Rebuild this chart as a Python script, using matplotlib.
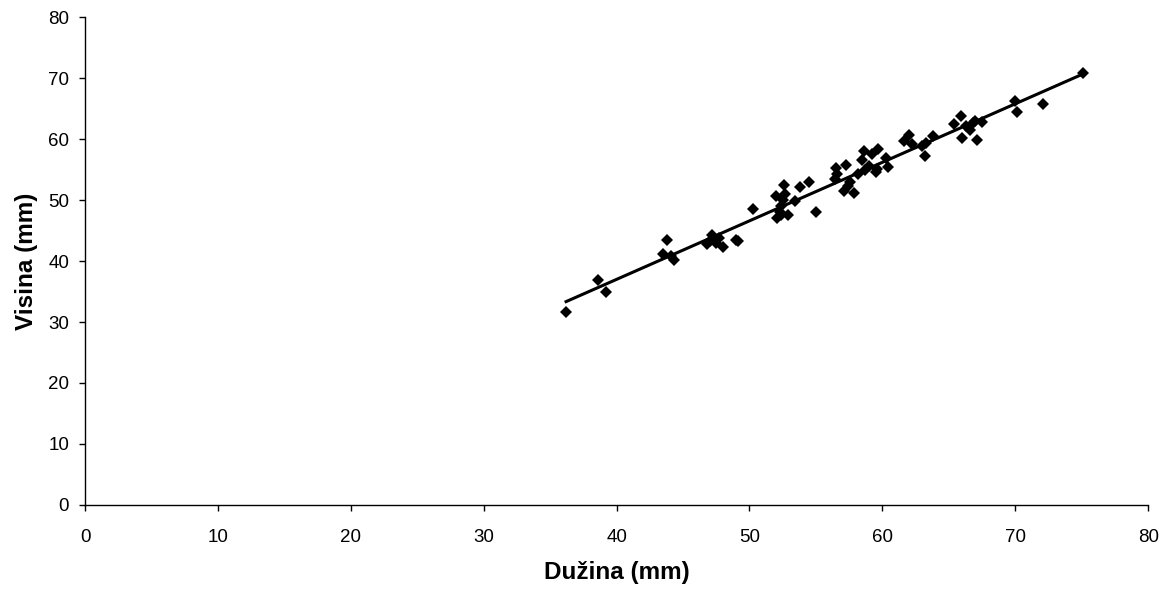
import numpy as np
import matplotlib
matplotlib.use("Agg")
import matplotlib.pyplot as plt

plt.rcParams['font.family'] = ['Liberation Sans', 'DejaVu Sans']

duzina = [36.2, 38.6, 39.2, 43.5, 43.8, 44.1, 44.3, 46.8, 47.0, 47.2, 47.5, 47.7, 48.0,
          49.0, 49.1, 50.3, 52.0, 52.1, 52.3, 52.4, 52.5, 52.6, 52.7, 52.4, 52.9, 53.4,
          53.8, 54.5, 55.0, 56.4, 56.5, 56.6, 57.1, 57.3, 57.4, 57.6, 57.9, 58.2, 58.5,
          58.6, 58.7, 59.0, 59.2, 59.6, 59.7, 59.5, 60.3, 60.4, 61.6, 62.0, 62.2, 63.0,
          63.2, 63.3, 63.8, 65.4, 65.9, 66.0, 66.3, 66.6, 66.8, 67.0, 67.1, 67.5, 70.0,
          70.1, 72.1, 75.1]
visina = [31.7, 36.9, 34.9, 41.2, 43.5, 40.8, 40.1, 42.8, 43.3, 44.2, 42.9, 43.8, 42.3,
          43.5, 43.2, 48.5, 50.6, 47.0, 48.0, 49.0, 50.0, 52.4, 51.0, 47.6, 47.6, 49.8,
          52.2, 52.9, 48.0, 53.4, 55.3, 54.2, 51.5, 55.8, 52.3, 53.0, 51.1, 54.3, 56.5,
          58.0, 54.9, 55.6, 57.5, 55.1, 58.4, 54.6, 56.9, 55.4, 59.6, 60.6, 59.2, 58.8,
          57.2, 59.3, 60.5, 62.5, 63.7, 60.1, 62.2, 61.5, 62.6, 63.0, 59.8, 62.8, 66.3,
          64.4, 65.7, 70.9]

x_ticks = [0, 10, 20, 30, 40, 50, 60, 70, 80]
y_ticks = [0, 10, 20, 30, 40, 50, 60, 70, 80]

fig = plt.figure(figsize=(11.68, 5.92), dpi=100)
ax = fig.add_axes([0.0728, 0.1470, 0.9102, 0.8242])

x = np.array(duzina)
y = np.array(visina)
k, b = np.polyfit(x, y, 1)
xl = np.array([x.min(), x.max()])
ax.plot(xl, k * xl + b, color='black', lw=2.2, zorder=2)
ax.plot(x, y, 'D', color='black', markersize=6, markeredgewidth=0, zorder=3)

ax.set_xlim(0, 80)
ax.set_ylim(0, 80)
ax.set_xticks(x_ticks)
ax.set_yticks(y_ticks)
ax.tick_params(direction='out', length=4.5, width=1, labelsize=13.5, colors='black')
ax.tick_params(axis='x', pad=12.5)
ax.tick_params(axis='y', pad=7)
for s in ['top', 'right']:
    ax.spines[s].set_visible(False)
for s in ['left', 'bottom']:
    ax.spines[s].set_linewidth(1)
    ax.spines[s].set_color('black')

ax.set_xlabel('Dužina (mm)', fontsize=17.5, fontweight='bold', labelpad=11)
ax.set_ylabel('Visina (mm)', fontsize=17.5, fontweight='bold', labelpad=7)

fig.savefig('out.png', dpi=100)
